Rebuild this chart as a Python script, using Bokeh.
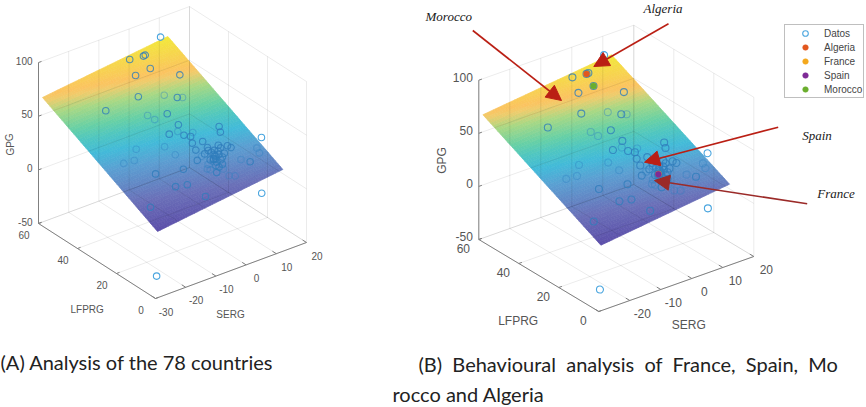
from bokeh.plotting import figure
from bokeh.models import Range1d, Arrow, NormalHead, Legend, LegendItem
from bokeh.core.properties import value
from bokeh.embed import file_html
from bokeh.resources import INLINE

# ---- data -----------------------------------------------------------------
SERG = [7.2,-1.8,2.1,2.7,1.2,-3.6,6.8,-7.2,0.4,1.7,4.2,-17.6,-7.5,-6.7,-3.9,-3.5,-7.5,-3.7,-0.4,-4.3,-3.0,-3.9,-4.5,-1.2,5.6,4.8,16.7,11.4,11.0,-1.3,-1.7,1.7,3.7,4.2,-3.1,-6.2,-0.3,0.5,1.7,-1.1,-2.2,-1.6,0.0,1.5,-0.6,-1.4,-2.0,-1.1,-3.2,-4.3,-3.8,-2.5,-0.6,-4.1,5.4,5.8,-0.6,0.8,-16.9,-9.8,-8.9,-19.6,-22.6,-18.6,-11.2,-16.5,-13.4,-11.5,16.8,-26.4,-26.4,-2.9,-3.2,-1.3,0.3,-3.1,-2.1,-1.1]
LFPRG = [55,56.9,55.9,55.9,51.0,51.1,44.5,44.1,42.6,37.9,39.1,44.7,38.9,36.5,34.4,29.3,27.8,29.3,26.7,25.2,23.8,21.5,18.8,20.4,22.5,20.6,18,12.1,10.2,17.8,16.8,16.9,15.3,14.2,18.0,15.4,15.9,15.1,15.7,14.7,13.3,13.1,13.9,13.5,12.0,14.7,11.9,10.4,14.5,13.2,12.5,10.0,10.8,8.7,11.0,6.9,7.8,6.8,30.2,26.6,22.5,27.0,27.7,17.6,14.8,10.6,9.4,3.0,18,8.1,5,11.0,16.3,15.8,12.6,13.6,13.4,14.2]
GPG = [90.7,77.0,77.3,77.6,72.4,70.8,68.2,62.9,58.1,60.1,56.1,59.9,51.8,49.9,54.8,50.1,47.3,44.1,42.7,46.0,45.1,42.5,39.8,42.5,46.9,44.7,30.3,32.9,31.0,40.0,38.8,40.1,39.3,38.4,33.5,35.9,38.5,38.0,39.0,37.0,35.3,35.3,36.7,36.8,34.6,31.0,34.0,32.9,30.1,28.6,28.0,32.1,27.5,30.3,29.8,32.0,24.6,24.2,40.3,39.3,35.7,36.3,35.9,33.7,33.6,27.8,27.7,22.3,-21.7,21.9,-38.7,32.9,37.8,38.0,35.5,35.3,35.4,36.6]
HIGHLIGHT_NAMES = ["Algeria", "France", "Spain", "Morocco"]
HIGHLIGHT_INDEX = [2, 76, 40, 4]
PLANE_SERG = [-29.0, 12.5]
PLANE_LFPRG = [0.5, 59.5]
PLANE_GPG = [[10.8, 25.3], [67.0, 80.5]]   # [lfprg low: serg low, high], [lfprg high: ...]
SERG_TICKS = [-30, -20, -10, 0, 10, 20]
LFPRG_TICKS = [0, 20, 40, 60]
GPG_TICKS = [-50, 0, 50, 100]

# ---- styling / view ---------------------------------------------------------
COLOR_STOPS = [(0,"#5B4DA9"),(.175,"#6A70B8"),(.366,"#5A9FD2"),(.466,"#42BAD9"),(.55,"#4FC6C0"),
               (.614,"#66D0A6"),(.72,"#A8D884"),(.79,"#EFCC6C"),(.82,"#FBC360"),(.88,"#F8D052"),(1,"#F2E83A")]
HL_COLORS = ["#E2571E", "#F4A81D", "#7E2A96", "#6BAE2E"]
PANEL_A = dict(o=(155,298), ex=(3.02,-1.12), ey=(-1.95,-1.25), ez=1.073,
               font="10px", zoff=(-6,-2), loff=(-14.5,11), soff=(10.5,13), ms=6.5,
               lab_l=(86.7,309.3), lab_s=(230,314), lab_z=(9.5,144), hide_s=[])
PANEL_B = dict(o=(598.3,311), ex=(3.1,-1.1), ey=(-2.0,-1.2), ez=1.062,
               font="12px", zoff=(-6,-3), loff=(-15.5,9), soff=(12.5,12.5), ms=7,
               lab_l=(517.7,320), lab_s=(688.3,324), lab_z=(441.7,160), hide_s=[-30])
TEXT_GRAY = "#555555"
SANS = value("Liberation Sans")

def proj(c, s, l, z):
    ss, zz = s + 30.0, z + 50.0
    return (c["o"][0] + c["ex"][0]*ss + c["ey"][0]*l,
            c["o"][1] + c["ex"][1]*ss + c["ey"][1]*l - c["ez"]*zz)

def hex2(c): return tuple(int(c[i:i+2],16) for i in (1,3,5))
def cmap(t):
    for (a,ca),(b,cb) in zip(COLOR_STOPS, COLOR_STOPS[1:]):
        if t <= b:
            f=(t-a)/(b-a); A,B=hex2(ca),hex2(cb)
            return "#%02x%02x%02x" % tuple(round(A[i]+(B[i]-A[i])*f) for i in range(3))
    return COLOR_STOPS[-1][1]

def plane_z(s, l):
    u=(s-PLANE_SERG[0])/(PLANE_SERG[1]-PLANE_SERG[0]); v=(l-PLANE_LFPRG[0])/(PLANE_LFPRG[1]-PLANE_LFPRG[0])
    g=PLANE_GPG
    return (1-v)*((1-u)*g[0][0]+u*g[0][1])+v*((1-u)*g[1][0]+u*g[1][1])

p = figure(width=866, height=407, output_backend="svg", toolbar_location=None,
           x_range=Range1d(0,866), y_range=Range1d(407,0), min_border=0,
           margin=0, outline_line_color=None, background_fill_color="white")
p.xaxis.visible=False; p.yaxis.visible=False; p.grid.visible=False

renderers={}
def panel(c, is_b):
    # surface
    N=48
    zmin=min(min(r) for r in PLANE_GPG); zmax=max(max(r) for r in PLANE_GPG)
    xs,ys,cols=[],[],[]
    s0,s1=PLANE_SERG; l0,l1=PLANE_LFPRG
    for i in range(N):
        for j in range(N):
            sa=s0+(s1-s0)*i/N; sb=s0+(s1-s0)*(i+1)/N
            la=l0+(l1-l0)*j/N; lb=l0+(l1-l0)*(j+1)/N
            q=[proj(c,sq,lq,plane_z(sq,lq)) for sq,lq in ((sa,la),(sb,la),(sb,lb),(sa,lb))]
            xs.append([a for a,_ in q]); ys.append([b for _,b in q])
            cols.append(cmap((plane_z((sa+sb)/2,(la+lb)/2)-zmin)/(zmax-zmin)))
    p.patches(xs,ys,fill_color=cols,line_color=cols,line_width=0.7)
    # grid (floor and back walls)
    gx,gy=[],[]
    def seg(a,b):
        A=proj(c,*a);B=proj(c,*b); gx.append([A[0],B[0]]); gy.append([A[1],B[1]])
    smin,smax=SERG_TICKS[0],SERG_TICKS[-1]; lmin,lmax=LFPRG_TICKS[0],LFPRG_TICKS[-1]; zlo,zhi=GPG_TICKS[0],GPG_TICKS[-1]
    for s in SERG_TICKS:
        seg((s,lmin,zlo),(s,lmax,zlo)); seg((s,lmax,zlo),(s,lmax,zhi))
    for l in LFPRG_TICKS:
        seg((smin,l,zlo),(smax,l,zlo)); seg((smax,l,zlo),(smax,l,zhi))
    for z in GPG_TICKS:
        seg((smin,lmax,z),(smax,lmax,z)); seg((smax,lmax,z),(smax,lmin,z))
    p.multi_line(gx,gy,line_color="black",line_alpha=0.08,line_width=1)
    # axes
    ax=[]
    def axseg(a,b):
        A=proj(c,*a);B=proj(c,*b); ax.append(([A[0],B[0]],[A[1],B[1]]))
    axseg((smin,lmin,zlo),(smax,lmin,zlo)); axseg((smin,lmin,zlo),(smin,lmax,zlo)); axseg((smin,lmax,zlo),(smin,lmax,zhi))
    for s in SERG_TICKS: axseg((s,lmin,zlo),(s,lmin+2,zlo))
    for l in LFPRG_TICKS: axseg((smin,l,zlo),(smin+1,l,zlo))
    for z in GPG_TICKS: axseg((smin,lmax,z),(smin+1,lmax,z))
    p.multi_line([a[0] for a in ax],[a[1] for a in ax],line_color="#808080",line_width=1)
    # tick labels
    def labels(vals,pts,off,align="center"):
        p.text([q[0]+off[0] for q in pts],[q[1]+off[1] for q in pts],text=[str(v) for v in vals],
               text_font=SANS,text_font_size=c["font"],text_color=TEXT_GRAY,text_align=align,text_baseline="middle")
    labels(GPG_TICKS,[proj(c,smin,lmax,z) for z in GPG_TICKS],c["zoff"],"right")
    labels(LFPRG_TICKS,[proj(c,smin,l,zlo) for l in LFPRG_TICKS],c["loff"])
    st=[s for s in SERG_TICKS if s not in c["hide_s"]]
    labels(st,[proj(c,s,lmin,zlo) for s in st],c["soff"])
    for txt,pos,ang in (("LFPRG",c["lab_l"],0),("SERG",c["lab_s"],0),("GPG",c["lab_z"],1.5708)):
        p.text([pos[0]],[pos[1]],text=[txt],angle=[ang],text_font=SANS,text_font_size=c["font"],
               text_color=TEXT_GRAY,text_align="center",text_baseline="middle")
    # points
    groups={"out":[],"above":[],"below":[]}
    for s,l,z in zip(SERG,LFPRG,GPG):
        r=z-plane_z(s,l)
        groups["out" if abs(r)>10 else ("above" if r>0 else "below")].append(proj(c,s,l,z))
    style={"below":("#2F7FC0",0.4),"above":("#2F7DBB",0.8),"out":("#4BA6DF",1.0)}
    for k in ("below","above","out"):
        pts=groups[k]
        rr=p.scatter([q[0] for q in pts],[q[1] for q in pts],marker="circle",size=c["ms"],fill_color=None,
                     line_color=style[k][0],line_alpha=style[k][1],line_width=1.1)
        if is_b and k=="out": renderers["Datos"]=rr
    if is_b:
        for name,idx,col in zip(HIGHLIGHT_NAMES,HIGHLIGHT_INDEX,HL_COLORS):
            q=proj(c,SERG[idx],LFPRG[idx],GPG[idx])
            renderers[name]=p.scatter([q[0]],[q[1]],marker="circle",size=6,fill_color=col,line_color=col,line_width=0.5)

panel(PANEL_A,False)
panel(PANEL_B,True)

# arrows and their names
ARROWS=[((472.3,30),(561,100),"#BA1F14"),((668,23.3),(593.3,66),"#BA1F14"),
        ((777.7,126.7),(644,161.7),"#BA1F14"),((806.7,203.3),(654,180),"#9B2A28")]
for a,b,col in ARROWS:
    p.add_layout(Arrow(end=NormalHead(size=15,fill_color=col,line_color=col,line_width=1),
                       x_start=a[0],y_start=a[1],x_end=b[0],y_end=b[1],line_color=col,line_width=1.6))
NAMES=[("Morocco",425,16),("Algeria",643,8),("Spain",801.7,135),("France",816.7,193)]
p.text([n[1] for n in NAMES],[n[2] for n in NAMES],text=[n[0] for n in NAMES],
       text_font=value("Liberation Serif"),text_font_style="italic",text_font_size="13px",
       text_color="#1a1a1a",text_baseline="middle")

# captions
CAPS=[("(A) Analysis of the 78 countries",0,361),
      ("(B)\u00a0\u00a0Behavioural\u00a0\u00a0analysis\u00a0\u00a0of\u00a0\u00a0France,\u00a0\u00a0Spain,\u00a0\u00a0Mo",418,363),
      ("rocco and Algeria",392,393)]
p.text([n[1] for n in CAPS],[n[2] for n in CAPS],text=[n[0] for n in CAPS],
       text_font=value("Lato"),text_font_size="20px",text_color="#222222",text_baseline="middle")

# legend
legend=Legend(items=[LegendItem(label=k,renderers=[renderers[k]]) for k in ["Datos"]+HIGHLIGHT_NAMES],
              location=(784,309),orientation="vertical",padding=1,margin=0,spacing=0,
              glyph_width=38,glyph_height=14,label_height=14,label_standoff=0,
              label_text_font="Liberation Sans",label_text_font_size="10px",label_text_color="#444444",
              border_line_color="#808080",border_line_width=1.5,background_fill_color="white",background_fill_alpha=1)
p.add_layout(legend,"center")

open("out.html","w").write(file_html(p,INLINE))
